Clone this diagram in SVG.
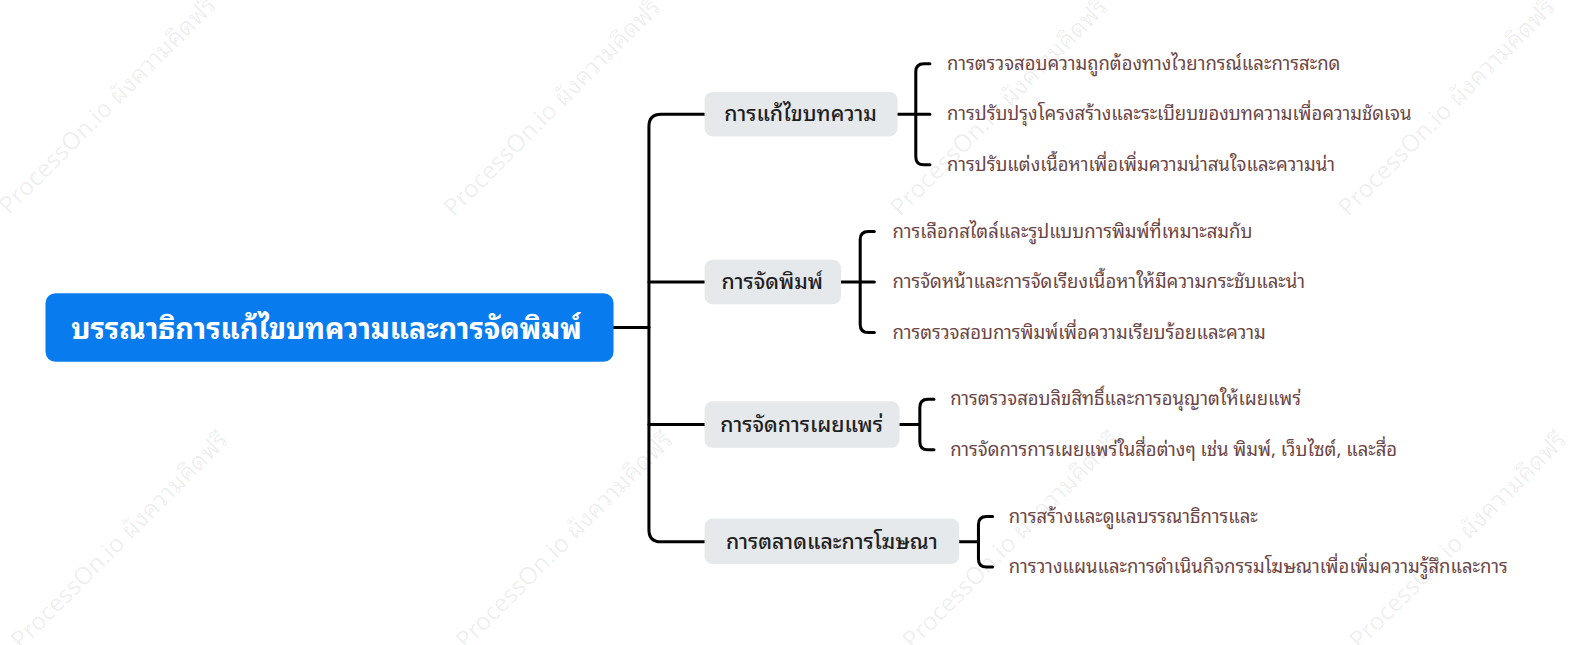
<svg xmlns="http://www.w3.org/2000/svg" width="1585" height="645" viewBox="0 0 1585 645">
<style>
text{font-family:"Noto Sans Thai Looped","Loma","Garuda","Tahoma","Noto Sans Thai","Noto Sans",sans-serif}
.wm{font-size:24px;fill:#000;fill-opacity:0.07}
.root{font-size:28.5px;fill:#fff;font-weight:bold}
.sub{font-size:21px;fill:#1f1f1f;font-weight:500}
.leaf{font-size:18.3px;fill:#6a4545}
.c{fill:none;stroke:#000;stroke-width:3;stroke-linecap:round}
.bx{fill:#e6e9ec}
</style>
<rect width="1585" height="645" fill="#fff"/>
<g transform="scale(1.0108)">
<g id="watermarks" text-anchor="middle">
<text class="wm" transform="translate(112,110) rotate(-45)">ProcessOn.io ผังความคิดฟรี</text>
<text class="wm" transform="translate(552,112) rotate(-45)">ProcessOn.io ผังความคิดฟรี</text>
<text class="wm" transform="translate(994,112) rotate(-45)">ProcessOn.io ผังความคิดฟรี</text>
<text class="wm" transform="translate(1437,112) rotate(-45)">ProcessOn.io ผังความคิดฟรี</text>
<text class="wm" transform="translate(124,540) rotate(-45)">ProcessOn.io ผังความคิดฟรี</text>
<text class="wm" transform="translate(564,540) rotate(-45)">ProcessOn.io ผังความคิดฟรี</text>
<text class="wm" transform="translate(1006,540) rotate(-45)">ProcessOn.io ผังความคิดฟรี</text>
<text class="wm" transform="translate(1448,540) rotate(-45)">ProcessOn.io ผังความคิดฟรี</text>
</g>
<g id="connectors">
<path class="c" d="M607,324 H642"/>
<path class="c" d="M697,113 H654 Q642,113 642,125 V524 Q642,536 654,536 H697"/>
<path class="c" d="M642,279 H697"/>
<path class="c" d="M642,420 H697"/>
<path class="c" d="M888,113 H920 M920,63 H914 Q906,63 906,71 V155 Q906,163 914,163 H920"/>
<path class="c" d="M832,279 H865 M865,229 H859 Q851,229 851,237 V321 Q851,329 859,329 H865"/>
<path class="c" d="M890,420 H910 M924,395 H918 Q910,395 910,403 V437 Q910,445 918,445 H924"/>
<path class="c" d="M949,536 H968 M982,511 H976 Q968,511 968,519 V553 Q968,561 976,561 H982"/>
</g>
<g id="root">
<rect x="45" y="290" width="562" height="68" rx="10" fill="#087cef"/>
<text class="root" x="323" y="335" text-anchor="middle">บรรณาธิการแก้ไขบทความและการจัดพิมพ์</text>
</g>
<g id="n1">
<rect class="bx" x="697" y="91" width="191" height="44" rx="8"/>
<text class="sub" x="792" y="120" text-anchor="middle">การแก้ไขบทความ</text>
</g>
<g id="n2">
<rect class="bx" x="697" y="257" width="135" height="44" rx="8"/>
<text class="sub" x="764" y="286" text-anchor="middle">การจัดพิมพ์</text>
</g>
<g id="n3">
<rect class="bx" x="697" y="397" width="193" height="46" rx="8"/>
<text class="sub" x="793" y="427" text-anchor="middle">การจัดการเผยแพร่</text>
</g>
<g id="n4">
<rect class="bx" x="697" y="513" width="252" height="45" rx="8"/>
<text class="sub" x="823" y="543" text-anchor="middle">การตลาดและการโฆษณา</text>
</g>
<g id="l1a"><text class="leaf" x="937" y="69">การตรวจสอบความถูกต้องทางไวยากรณ์และการสะกด</text></g>
<g id="l1b"><text class="leaf" x="937" y="119">การปรับปรุงโครงสร้างและระเบียบของบทความเพื่อความชัดเจน</text></g>
<g id="l1c"><text class="leaf" x="937" y="169">การปรับแต่งเนื้อหาเพื่อเพิ่มความน่าสนใจและความน่า</text></g>
<g id="l2a"><text class="leaf" x="883" y="235">การเลือกสไตล์และรูปแบบการพิมพ์ที่เหมาะสมกับ</text></g>
<g id="l2b"><text class="leaf" x="883" y="285">การจัดหน้าและการจัดเรียงเนื้อหาให้มีความกระชับและน่า</text></g>
<g id="l2c"><text class="leaf" x="883" y="335">การตรวจสอบการพิมพ์เพื่อความเรียบร้อยและความ</text></g>
<g id="l3a"><text class="leaf" x="940" y="401">การตรวจสอบลิขสิทธิ์และการอนุญาตให้เผยแพร่</text></g>
<g id="l3b"><text class="leaf" x="940" y="451">การจัดการการเผยแพร่ในสื่อต่างๆ เช่น พิมพ์, เว็บไซต์, และสื่อ</text></g>
<g id="l4a"><text class="leaf" x="998" y="517">การสร้างและดูแลบรรณาธิการและ</text></g>
<g id="l4b"><text class="leaf" x="998" y="567">การวางแผนและการดำเนินกิจกรรมโฆษณาเพื่อเพิ่มความรู้สึกและการ</text></g>
</g>
</svg>
